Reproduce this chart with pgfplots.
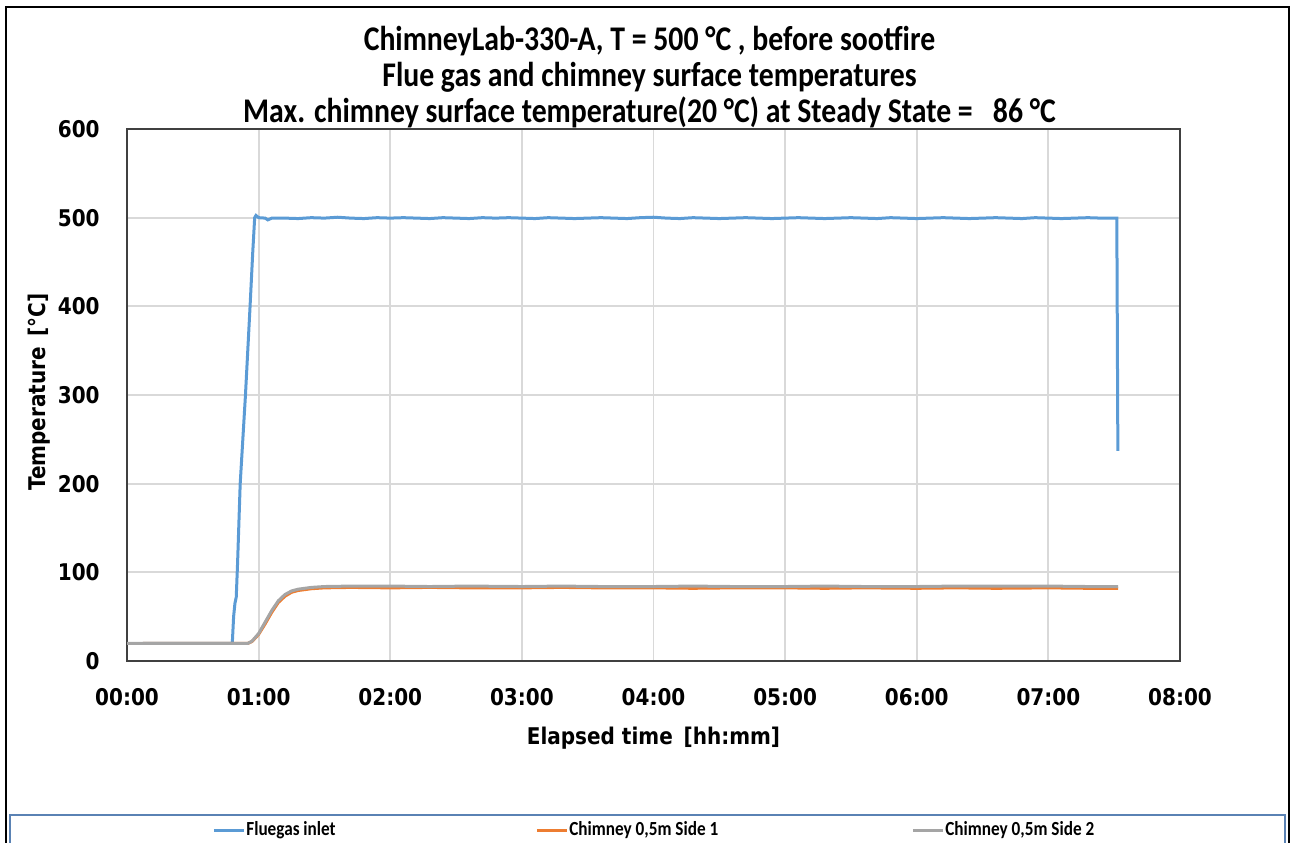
\documentclass[border=0pt]{standalone}
\usepackage{fontspec}
\setmainfont{Carlito}
\newfontfamily\tickfont{DejaVu Sans}[FakeStretch=0.87]
\newfontfamily\titlefont{Carlito}[FakeStretch=0.86]
\usepackage{pgfplots}
\pgfplotsset{compat=1.18}
\definecolor{cblue}{HTML}{5B9BD5}
\definecolor{corange}{HTML}{ED7D31}
\definecolor{cgray}{HTML}{A5A5A5}
\definecolor{gridc}{HTML}{D9D9D9}
\definecolor{legbox}{HTML}{5A82B4}
\begin{document}
\begin{tikzpicture}
\useasboundingbox (0,0) rectangle (647bp,-421.5bp);
\draw[black, line width=0.8bp] (3bp,-3.5bp) rectangle (644.5bp,-440bp);
\draw[legbox, line width=0.8bp] (5bp,-407.5bp) rectangle (642.5bp,-440bp);
\begin{axis}[
  at={(63.5bp,-330.5bp)}, anchor=south west,
  scale only axis, width=526.5bp, height=266bp,
  xmin=0, xmax=8, ymin=0, ymax=600,
  xtick={0,1,2,3,4,5,6,7,8},
  xticklabels={00:00,01:00,02:00,03:00,04:00,05:00,06:00,07:00,08:00},
  ytick={0,100,200,300,400,500,600},
  /pgf/number format/assume math mode=true,
  major tick length=0pt,
  grid=major,
  major grid style={gridc, line width=0.9bp},
  axis line style={black!75, line width=0.9bp},
  ticklabel style={font=\fontsize{11.5bp}{13bp}\tickfont\bfseries},
  yticklabel style={inner sep=0pt, anchor=east, xshift=-13.5bp},
  xticklabel style={inner sep=0pt, anchor=north, yshift=-13.75bp},
  xlabel={Elapsed time\, [hh:mm]},
  ylabel={Temperature\, [°C]},
  label style={font=\fontsize{11.5bp}{13bp}\tickfont\bfseries},
  xlabel style={at={(axis description cs:0.5,-0.1447)}, anchor=center},
  ylabel style={at={(axis description cs:-0.0835,0.5056)}, anchor=center, rotate=0},
  title={ChimneyLab-330-A, T = 500 °C , before sootfire\\Flue gas and\ chimney surface temperatures\\Max. chimney surface temperature(20 °C) at Steady State =\ \ \ 86 °C},
  title style={font=\fontsize{17.3bp}{18bp}\titlefont\bfseries, align=center, inner sep=0pt, at={(0.5,1)}, anchor=south, yshift=-5.5bp, xshift=-2bp},
  legend style={at={(axis description cs:0.0807,-0.3177)}, anchor=west, draw=none, fill=none, inner sep=0pt,
    font=\fontsize{10bp}{11bp}\titlefont\bfseries, legend columns=3,
    nodes={inner sep=0.5bp, anchor=west}},
  legend image code/.code={\draw[#1] (0bp,0bp) -- (15bp,0bp);},
]
\addplot[cblue, line width=1.5bp] coordinates {
(0.12,20) (0.80,20) (0.81,50) (0.82,65) (0.83,72) (0.84,110) (0.86,200) (0.90,300) (0.935,400) (0.955,460) (0.97,500) (0.98,502.5) (1.0,500)
(1.05,499.5) (1.07,497.5) (1.1,499.5) (1.2,499.5) (1.3,499) (1.4,500) (1.5,499.5) (1.6,500.5) (1.7,499.5) (1.8,499) (1.9,500) (2.0,499.5)
(2.1,500) (2.2,499.5) (2.3,499) (2.4,500) (2.5,499.5) (2.6,499) (2.7,500) (2.8,499.5) (2.9,500) (3.0,499.5)
(3.1,499) (3.2,500) (3.3,499.5) (3.4,499) (3.5,499.5) (3.6,500) (3.7,499.5) (3.8,499) (3.9,500) (4.0,500.5)
(4.1,499.5) (4.2,499) (4.3,500) (4.4,499.5) (4.5,499) (4.6,499.5) (4.7,500) (4.8,499.5) (4.9,499) (5.0,499.5)
(5.1,500) (5.2,499.5) (5.3,499) (5.4,499.5) (5.5,500) (5.6,499.5) (5.7,499) (5.8,500) (5.9,499.5) (6.0,499)
(6.1,499.5) (6.2,500) (6.3,499.5) (6.4,499) (6.5,499.5) (6.6,500) (6.7,499.5) (6.8,499) (6.9,500) (7.0,499.5)
(7.1,499) (7.2,499.5) (7.3,500) (7.4,499.5) (7.5,499.5) (7.52,499.5) (7.528,237)
};
\addlegendentry{\makebox[144bp][l]{Fluegas inlet}}
\addplot[corange, line width=1.5bp] coordinates {
(0.12,20) (0.92,20) (0.95,22) (1.0,30) (1.05,42) (1.1,55) (1.15,66) (1.2,73) (1.25,77.5) (1.3,79.5) (1.4,81.5) (1.5,82.5) (1.7,83)
(2.0,82.5) (2.3,83) (2.6,82.5) (3.0,82.5) (3.3,83) (3.6,82.5) (4.0,82.5) (4.3,82) (4.6,82.5) (5.0,82.5) (5.3,82) (5.6,82.5) (6.0,82)
(6.3,82.5) (6.6,82) (7.0,82.5) (7.3,82) (7.53,82)
};
\addlegendentry{\makebox[170.5bp][l]{Chimney 0,5m Side 1}}
\addplot[cgray, line width=1.5bp] coordinates {
(0,20) (0.92,20) (0.95,22.5) (1.0,31) (1.05,44) (1.1,57) (1.15,68) (1.2,75) (1.25,79) (1.3,81) (1.4,83) (1.5,84) (1.7,84.5)
(2.0,84.5) (2.3,84) (2.6,84.5) (3.0,84) (3.3,84.5) (3.6,84) (4.0,84) (4.3,84.5) (4.6,84) (5.0,84) (5.3,84.5) (5.6,84) (6.0,84)
(6.3,84.5) (6.6,84.5) (7.0,84.5) (7.3,84) (7.53,84)
};
\addlegendentry{Chimney 0,5m Side 2}
\end{axis}
\end{tikzpicture}
\end{document}
